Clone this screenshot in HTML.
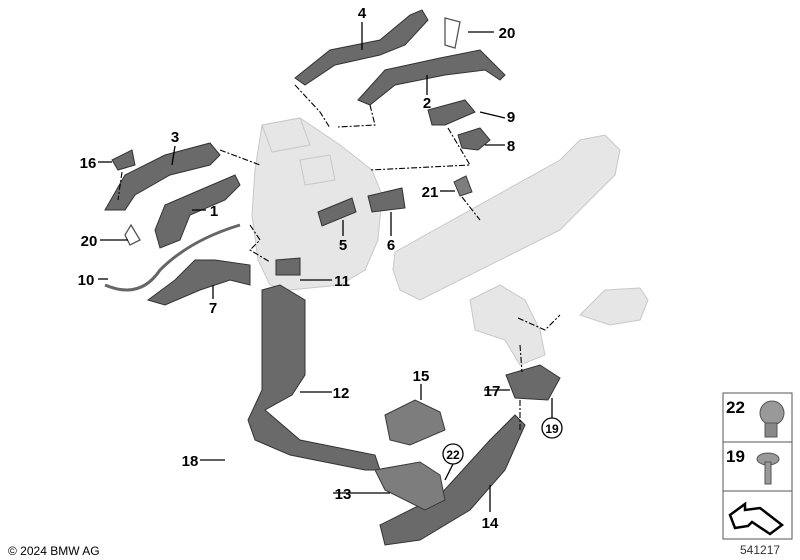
<!DOCTYPE html>
<html><head><meta charset="utf-8"><style>
html,body{margin:0;padding:0;background:#fff;}
svg{display:block}
text{font-family:"Liberation Sans",Arial,sans-serif;font-weight:bold;font-size:15px;fill:#000}
.d{fill:#6a6a6a;stroke:#333;stroke-width:1}
.m{fill:#7d7d7d;stroke:#3a3a3a;stroke-width:1}
.l{fill:#e6e6e6;stroke:#c8c8c8;stroke-width:1}
.ln{stroke:#000;stroke-width:1.3;fill:none}
.dd{stroke:#000;stroke-width:1.1;fill:none;stroke-dasharray:6,2,2,2}
</style></head><body>
<svg width="800" height="560" viewBox="0 0 800 560" xmlns="http://www.w3.org/2000/svg">
<path class="l" d="M255 170 L262 125 L300 118 L340 145 L372 170 L382 195 L378 240 L365 270 L340 285 L290 290 L270 285 L258 260 L252 215 Z"/>
<path class="l" d="M262 125 L300 118 L310 145 L272 152 Z"/>
<path class="l" d="M300 160 L330 155 L335 180 L305 185 Z"/>
<path class="l" d="M395 252 L560 160 L580 140 L605 135 L620 150 L615 175 L560 230 L420 300 L400 290 L393 270 Z"/>
<path class="l" d="M470 300 L500 285 L525 300 L540 330 L545 355 L520 365 L505 340 L475 330 Z"/>
<path class="l" d="M580 315 L605 290 L640 288 L648 300 L640 320 L610 325 Z"/>
<path class="d" d="M295 78 L330 50 L380 40 L410 15 L422 10 L428 20 L405 45 L380 55 L335 65 L305 85 Z"/>
<path class="d" d="M358 100 L385 70 L440 58 L480 50 L505 75 L500 80 L485 70 L445 75 L395 85 L370 105 Z"/>
<path class="d" d="M105 210 L125 175 L165 155 L210 143 L220 155 L210 165 L170 175 L135 195 L125 210 Z"/>
<path class="d" d="M155 230 L165 205 L200 190 L235 175 L240 185 L225 200 L190 215 L180 240 L160 248 Z"/>
<path class="d" d="M148 300 L175 280 L195 260 L215 260 L250 265 L250 285 L230 280 L200 290 L165 305 Z"/>
<path class="d" d="M262 290 L280 285 L305 300 L305 375 L292 395 L265 410 L300 440 L375 455 L380 470 L365 470 L290 455 L255 440 L248 420 L262 390 Z"/>
<path class="d" d="M380 525 L440 495 L490 440 L515 415 L525 425 L505 470 L470 510 L420 540 L385 545 Z"/>
<path class="m" d="M375 470 L420 462 L440 475 L445 500 L425 510 L385 490 Z"/>
<path class="m" d="M385 415 L415 400 L440 412 L445 430 L410 445 L390 440 Z"/>
<path class="d" d="M318 212 L352 198 L356 212 L322 226 Z"/>
<path class="d" d="M368 196 L402 188 L405 208 L372 212 Z"/>
<path class="d" d="M276 260 L300 258 L300 275 L276 275 Z"/>
<path class="d" d="M428 110 L465 100 L475 112 L445 125 L432 125 Z"/>
<path class="d" d="M458 135 L480 128 L490 140 L478 150 L462 148 Z"/>
<path class="d" d="M112 160 L132 150 L135 165 L118 170 Z"/>
<path class="d" d="M506 375 L540 365 L560 378 L548 400 L515 398 Z"/>
<path class="m" d="M454 182 L466 176 L472 192 L460 196 Z"/>
<path class="ln" d="M105 285 Q140 300 160 270 Q190 240 240 225" style="stroke:#666;stroke-width:3"/>
<path class="ln" d="M131 225 L140 240 L130 245 L125 235 Z" style="stroke:#555"/>
<path class="ln" d="M445 18 L460 22 L455 48 L445 45 Z" style="stroke:#555"/>
<circle cx="772" cy="413" r="12" fill="#999" stroke="#555"/>
<rect x="765" y="423" width="12" height="14" fill="#888" stroke="#555"/>
<ellipse cx="768" cy="459" rx="11" ry="6" fill="#999" stroke="#555"/>
<rect x="765" y="462" width="6" height="22" fill="#999" stroke="#555"/>
<path class="dd" d="M295 85 L320 112 L330 128"/>
<path class="dd" d="M370 105 L375 125 L338 127"/>
<path class="dd" d="M448 128 L470 165 L370 170"/>
<path class="dd" d="M220 150 L260 165"/>
<path class="dd" d="M250 225 L260 240 L250 250 L270 262"/>
<path class="dd" d="M122 172 L118 200"/>
<path class="dd" d="M462 197 L480 220"/>
<path class="dd" d="M518 318 L545 330 L560 315"/>
<path class="dd" d="M520 345 L522 372"/>
<path class="dd" d="M520 400 L520 430"/>
<g class="ln">
<path d="M362 22 L362 50"/><path d="M494 32 L468 32"/><path d="M427 95 L427 75"/>
<path d="M505 118 L480 112"/><path d="M505 145 L485 145"/><path d="M175 146 L172 165"/>
<path d="M98 162 L112 162"/><path d="M206 210 L192 210"/><path d="M440 191 L455 191"/>
<path d="M100 240 L128 240"/><path d="M343 236 L343 220"/><path d="M391 236 L391 212"/>
<path d="M98 279 L108 279"/><path d="M332 280 L300 280"/><path d="M213 299 L213 285"/>
<path d="M421 384 L421 400"/><path d="M332 392 L300 392"/><path d="M484 390 L510 390"/>
<path d="M552 418 L552 398"/><path d="M453 464 L445 480"/><path d="M200 460 L225 460"/>
<path d="M333 493 L390 493"/><path d="M490 512 L490 485"/>
</g>
<circle cx="552" cy="428" r="10" fill="#fff" stroke="#000" stroke-width="1.3"/>
<circle cx="453" cy="454" r="10" fill="#fff" stroke="#000" stroke-width="1.3"/>
<g text-anchor="middle">
<text x="362" y="18">4</text><text x="507" y="38">20</text><text x="427" y="108">2</text>
<text x="511" y="122">9</text><text x="511" y="151">8</text><text x="175" y="142">3</text>
<text x="88" y="168">16</text><text x="214" y="216">1</text><text x="430" y="197">21</text>
<text x="89" y="246">20</text><text x="343" y="250">5</text><text x="391" y="250">6</text>
<text x="86" y="285">10</text><text x="342" y="286">11</text><text x="213" y="313">7</text>
<text x="421" y="381">15</text><text x="341" y="398">12</text><text x="492" y="396">17</text>
<text x="552" y="433" style="font-size:12px">19</text><text x="453" y="459" style="font-size:12px">22</text>
<text x="190" y="466">18</text><text x="343" y="499">13</text><text x="490" y="528">14</text>
</g>
<rect x="723" y="393" width="69" height="146" fill="none" stroke="#555"/>
<line x1="723" y1="442" x2="792" y2="442" stroke="#555"/>
<line x1="723" y1="491" x2="792" y2="491" stroke="#555"/>
<text x="726" y="413" style="font-size:17px">22</text>
<text x="726" y="462" style="font-size:17px">19</text>
<path d="M730 515 L745 504 L745 510 L760 508 L782 525 L770 534 L752 522 L748 526 L735 528 Z" fill="#fff" stroke="#000" stroke-width="2.5"/>
<text x="8" y="555" style="font-size:12px;font-weight:normal">© 2024 BMW AG</text>
<text x="740" y="554" style="font-size:12px;font-weight:normal;fill:#333">541217</text>
</svg>
</body></html>
